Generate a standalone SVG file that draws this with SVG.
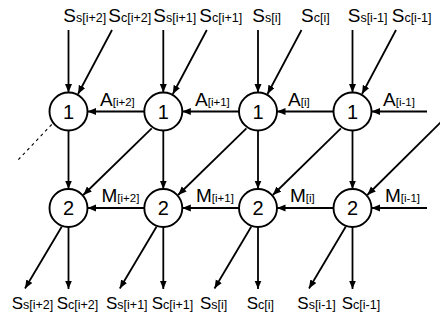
<svg xmlns="http://www.w3.org/2000/svg" width="440" height="322" viewBox="0 0 440 322">
<defs>
<marker id="ah" markerUnits="userSpaceOnUse" markerWidth="9" markerHeight="8" refX="8.5" refY="3.5" orient="auto">
<path d="M0,0 L8.5,3.5 L0,7 z" fill="#000"/>
</marker>
<style>
.c{fill:#fff;stroke:#000;stroke-width:1.9}
.n{font-family:"Liberation Sans",Arial,sans-serif;font-size:20px;text-anchor:middle;fill:#000}
.l{stroke:#000;stroke-width:1.8;fill:none;marker-end:url(#ah)}
.d{stroke:#000;stroke-width:1.1;fill:none;stroke-dasharray:3 3.5}
.t{font-family:"Liberation Sans",Arial,sans-serif;font-size:19px;fill:#000}
.b{font-family:"Liberation Sans",Arial,sans-serif;font-size:17px;fill:#000}
.s{font-size:12.5px}
.s2{font-size:11.5px}
</style>
</defs>
<rect width="440" height="322" fill="#fff"/>
<g id="connectors">
<line class="l" x1="68.5" y1="30" x2="68.5" y2="92.5"/>
<line class="l" x1="112" y1="30" x2="78" y2="94"/>
<line class="l" x1="163.3" y1="30" x2="163.3" y2="92.5"/>
<line class="l" x1="206.8" y1="30" x2="172.8" y2="94"/>
<line class="l" x1="258" y1="30" x2="258" y2="92.5"/>
<line class="l" x1="301.5" y1="30" x2="267.5" y2="94"/>
<line class="l" x1="352.5" y1="30" x2="352.5" y2="92.5"/>
<line class="l" x1="396" y1="30" x2="362" y2="94"/>
<line class="l" x1="427" y1="111.5" x2="371.5" y2="111.5"/>
<line class="l" x1="333.5" y1="111.5" x2="277" y2="111.5"/>
<line class="l" x1="239" y1="111.5" x2="182.3" y2="111.5"/>
<line class="l" x1="144.3" y1="111.5" x2="87.5" y2="111.5"/>
<line class="l" x1="68.5" y1="130.5" x2="68.5" y2="189"/>
<line class="l" x1="163.3" y1="130.5" x2="163.3" y2="189"/>
<line class="l" x1="258" y1="130.5" x2="258" y2="189"/>
<line class="l" x1="352.5" y1="130.5" x2="352.5" y2="189"/>
<line class="l" x1="151.7" y1="128.3" x2="83.3" y2="195"/>
<line class="l" x1="246.4" y1="128.3" x2="178.1" y2="195"/>
<line class="l" x1="340.9" y1="128.3" x2="272.8" y2="195"/>
<line class="l" x1="441" y1="122" x2="367.3" y2="195"/>
<line class="d" x1="51.7" y1="124.5" x2="18" y2="160"/>
<line class="l" x1="427" y1="208" x2="371.5" y2="208"/>
<line class="l" x1="333.5" y1="208" x2="277" y2="208"/>
<line class="l" x1="239" y1="208" x2="182.3" y2="208"/>
<line class="l" x1="144.3" y1="208" x2="87.5" y2="208"/>
<line class="l" x1="68.5" y1="227" x2="68.5" y2="289"/>
<line class="l" x1="163.3" y1="227" x2="163.3" y2="289"/>
<line class="l" x1="258" y1="227" x2="258" y2="289"/>
<line class="l" x1="352.5" y1="227" x2="352.5" y2="289"/>
<line class="l" x1="61.7" y1="226.7" x2="25" y2="288.5"/>
<line class="l" x1="156.5" y1="226.7" x2="119.8" y2="288.5"/>
<line class="l" x1="251.2" y1="226.7" x2="214.5" y2="288.5"/>
<line class="l" x1="345.7" y1="226.7" x2="309" y2="288.5"/>
<text class="t" x="100" y="105.5">A<tspan class="s2">[i+2]</tspan></text>
<text class="t" x="195" y="105.5">A<tspan class="s2">[i+1]</tspan></text>
<text class="t" x="288" y="105.5">A<tspan class="s2">[i]</tspan></text>
<text class="t" x="383" y="105.5">A<tspan class="s2">[i-1]</tspan></text>
<text class="t" x="101.5" y="201.5">M<tspan class="s2">[i+2]</tspan></text>
<text class="t" x="196" y="201.5">M<tspan class="s2">[i+1]</tspan></text>
<text class="t" x="290" y="201.5">M<tspan class="s2">[i]</tspan></text>
<text class="t" x="385" y="201.5">M<tspan class="s2">[i-1]</tspan></text>
</g>
<g id="n1a"><circle class="c" cx="68.5" cy="111.5" r="19"/><text class="n" x="68.5" y="118.6">1</text></g>
<g id="n1b"><circle class="c" cx="163.3" cy="111.5" r="19"/><text class="n" x="163.3" y="118.6">1</text></g>
<g id="n1c"><circle class="c" cx="258" cy="111.5" r="19"/><text class="n" x="258" y="118.6">1</text></g>
<g id="n1d"><circle class="c" cx="352.5" cy="111.5" r="19"/><text class="n" x="352.5" y="118.6">1</text></g>
<g id="n2a"><circle class="c" cx="68.5" cy="208" r="19"/><text class="n" x="68.5" y="215.1">2</text></g>
<g id="n2b"><circle class="c" cx="163.3" cy="208" r="19"/><text class="n" x="163.3" y="215.1">2</text></g>
<g id="n2c"><circle class="c" cx="258" cy="208" r="19"/><text class="n" x="258" y="215.1">2</text></g>
<g id="n2d"><circle class="c" cx="352.5" cy="208" r="19"/><text class="n" x="352.5" y="215.1">2</text></g>
<g id="inputs">
<text class="t" x="63.3" y="22">S<tspan class="s">s[i+2]</tspan></text>
<text class="t" x="108.3" y="22">S<tspan class="s">c[i+2]</tspan></text>
<text class="t" x="153.3" y="22">S<tspan class="s">s[i+1]</tspan></text>
<text class="t" x="199.3" y="22">S<tspan class="s">c[i+1]</tspan></text>
<text class="t" x="252.3" y="22">S<tspan class="s">s[i]</tspan></text>
<text class="t" x="301" y="22">S<tspan class="s">c[i]</tspan></text>
<text class="t" x="347.7" y="22">S<tspan class="s">s[i-1]</tspan></text>
<text class="t" x="391.7" y="22">S<tspan class="s">c[i-1]</tspan></text>
</g>
<g id="outputs">
<text class="b" x="11.7" y="309.3">S<tspan class="s">s[i+2]</tspan></text>
<text class="b" x="56.7" y="309.3">S<tspan class="s">c[i+2]</tspan></text>
<text class="b" x="106" y="309.3">S<tspan class="s">s[i+1]</tspan></text>
<text class="b" x="151.7" y="309.3">S<tspan class="s">c[i+1]</tspan></text>
<text class="b" x="200" y="309.3">S<tspan class="s">s[i]</tspan></text>
<text class="b" x="246.7" y="309.3">S<tspan class="s">c[i]</tspan></text>
<text class="b" x="297.3" y="309.3">S<tspan class="s">s[i-1]</tspan></text>
<text class="b" x="341.7" y="309.3">S<tspan class="s">c[i-1]</tspan></text>
</g>
</svg>
